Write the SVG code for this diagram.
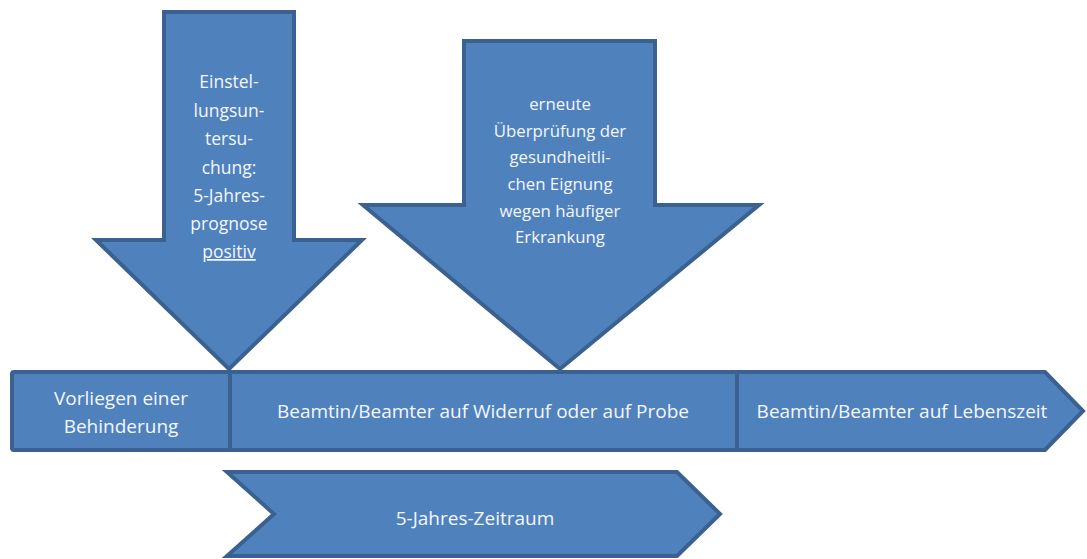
<svg xmlns="http://www.w3.org/2000/svg" width="1087" height="559" viewBox="0 0 1087 559">
<style>
.shape{fill:#4f81bd;stroke:#3a6190;stroke-width:4;stroke-linejoin:miter}
.t{font-family:"Open Sans","Liberation Sans",sans-serif;fill:#f4f7fb;text-anchor:middle}
.t19{font-size:19px}
.t18{font-size:17.5px}
.t17{font-size:16.8px}
</style>
<rect width="1087" height="559" fill="#ffffff"/>
<g id="bar-behinderung">
<rect class="shape" x="12" y="372" width="218" height="78" rx="2"/>
<text class="t t19" x="121" y="405">Vorliegen einer</text>
<text class="t t19" x="121" y="433">Behinderung</text>
</g>
<g id="bar-probe">
<rect class="shape" x="230" y="372" width="507" height="78"/>
<text class="t t19" x="483" y="418">Beamtin/Beamter auf Widerruf oder auf Probe</text>
</g>
<g id="bar-lebenszeit">
<polygon class="shape" points="737,372 1045,372 1083,411 1045,450 737,450"/>
<text class="t t19" x="902" y="418">Beamtin/Beamter auf Lebenszeit</text>
</g>
<g id="arrow-einstellung">
<polygon class="shape" points="164,12 294,12 294,240 362,240 229,369 96,240 164,240"/>
<text class="t t18" x="229" y="88">Einstel-</text>
<text class="t t18" x="229" y="117">lungsun-</text>
<text class="t t18" x="229" y="145">tersu-</text>
<text class="t t18" x="229" y="174">chung:</text>
<text class="t t18" x="229" y="202">5-Jahres-</text>
<text class="t t18" x="229" y="230">prognose</text>
<text class="t t18" x="229" y="258" text-decoration="underline">positiv</text>
</g>
<g id="arrow-ueberpruefung">
<polygon class="shape" points="464,41 655,41 655,205 759,205 560,369 363,205 464,205"/>
<text class="t t17" x="560" y="110">erneute</text>
<text class="t t17" x="560" y="137">Überprüfung der</text>
<text class="t t17" x="560" y="163">gesundheitli-</text>
<text class="t t17" x="560" y="190">chen Eignung</text>
<text class="t t17" x="560" y="217">wegen häufiger</text>
<text class="t t17" x="560" y="243">Erkrankung</text>
</g>
<g id="chevron-zeitraum">
<polygon class="shape" points="227,472 677,472 720,514 677,556 227,556 274,514"/>
<text class="t t19" x="475" y="525">5-Jahres-Zeitraum</text>
</g>
<g id="connectors"/>
</svg>
